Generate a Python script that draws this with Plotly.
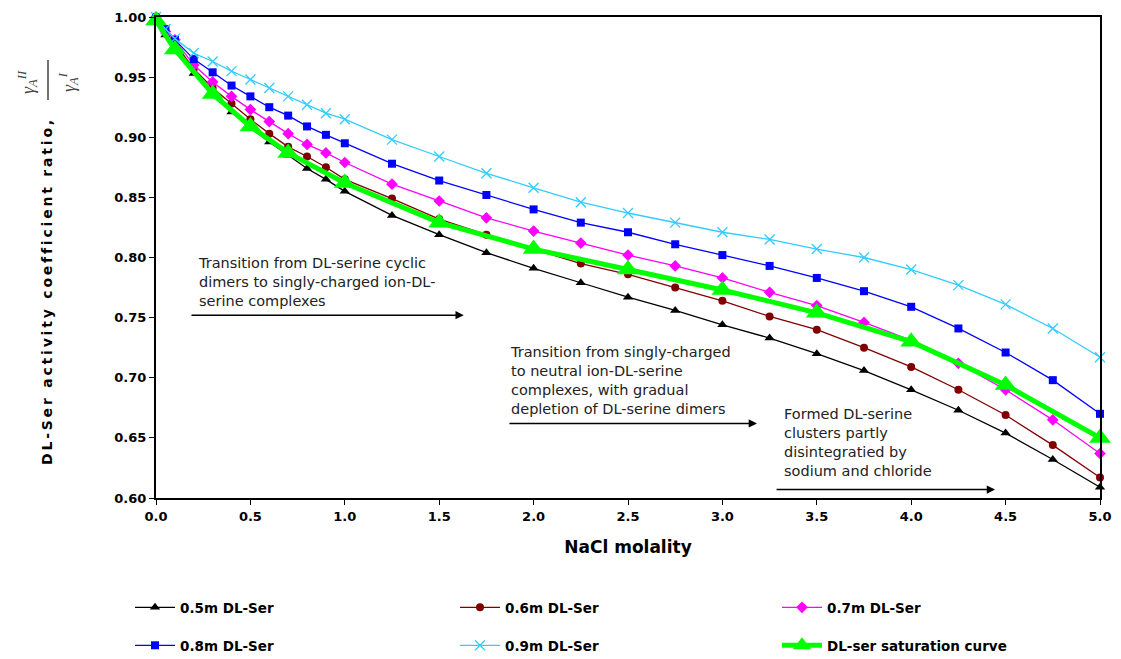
import plotly.graph_objects as go

# NaCl molality grid shared by the five DL-serine series
nacl = [0, 0.05, 0.1, 0.2, 0.3, 0.4, 0.5, 0.6, 0.7, 0.8, 0.9, 1.0, 1.25, 1.5,
        1.75, 2.0, 2.25, 2.5, 2.75, 3.0, 3.25, 3.5, 3.75, 4.0, 4.25, 4.5, 4.75, 5.0]

ser_05 = [1.000, 0.985, 0.976, 0.953, 0.937, 0.921, 0.908, 0.896, 0.885, 0.874,
          0.865, 0.855, 0.835, 0.819, 0.804, 0.791, 0.779, 0.767, 0.756, 0.744,
          0.733, 0.720, 0.706, 0.690, 0.673, 0.654, 0.632, 0.609]
ser_06 = [1.000, 0.987, 0.978, 0.957, 0.941, 0.928, 0.915, 0.903, 0.892, 0.884,
          0.875, 0.865, 0.849, 0.832, 0.819, 0.807, 0.795, 0.786, 0.775, 0.764,
          0.751, 0.740, 0.725, 0.709, 0.690, 0.669, 0.644, 0.617]
ser_07 = [1.000, 0.988, 0.981, 0.960, 0.946, 0.934, 0.923, 0.913, 0.903, 0.894,
          0.887, 0.879, 0.861, 0.847, 0.833, 0.822, 0.812, 0.802, 0.793, 0.783,
          0.771, 0.760, 0.746, 0.731, 0.712, 0.690, 0.665, 0.637]
ser_08 = [1.000, 0.990, 0.981, 0.965, 0.954, 0.943, 0.934, 0.925, 0.918, 0.909,
          0.902, 0.895, 0.878, 0.864, 0.852, 0.840, 0.829, 0.821, 0.811, 0.802,
          0.793, 0.783, 0.772, 0.759, 0.741, 0.721, 0.698, 0.670]
ser_09 = [1.000, 0.990, 0.982, 0.970, 0.963, 0.955, 0.948, 0.941, 0.934, 0.927,
          0.920, 0.915, 0.898, 0.884, 0.870, 0.858, 0.846, 0.837, 0.829, 0.821,
          0.815, 0.807, 0.800, 0.790, 0.777, 0.761, 0.741, 0.717]

# saturation curve
sat_x = [0, 0.1, 0.3, 0.5, 0.7, 1.0, 1.5, 2.0, 2.5, 3.0, 3.5, 4.0, 4.5, 5.0]
sat_y = [0.997, 0.973, 0.936, 0.909, 0.887, 0.862, 0.829, 0.807, 0.790, 0.773,
         0.754, 0.730, 0.694, 0.650]

x_ticks = [0, 0.5, 1.0, 1.5, 2.0, 2.5, 3.0, 3.5, 4.0, 4.5, 5.0]
y_ticks = [0.60, 0.65, 0.70, 0.75, 0.80, 0.85, 0.90, 0.95, 1.00]

WIDE = "DejaVu Sans, Verdana, sans-serif"
SERIF = "Liberation Serif, Times New Roman, serif"


def spaced(text):
    """Open up the tracking of a label with thin spaces between letters."""
    return "\u2009 \u2009".join("\u2009".join(word) for word in text.split(" "))


W, H = 1121, 659
L, R, T, B = 156, 21, 17, 161
pw, ph = W - L - R, H - T - B


def px(x):
    return (x - L) / pw


def py(y):
    return (H - B - y) / ph


# name, values, colour, symbol, size, legend slot (left px, top px)
series = [
    ("0.5m DL-Ser", ser_05, "#000000", "triangle-up", 9, (130, 592)),
    ("0.6m DL-Ser", ser_06, "#800000", "circle", 8, (455, 592)),
    ("0.7m DL-Ser", ser_07, "#FF00FF", "diamond", 9, (777, 592)),
    ("0.8m DL-Ser", ser_08, "#0000FF", "square", 8, (130, 630)),
    ("0.9m DL-Ser", ser_09, "#33CCFF", "x-thin-open", 10, (455, 630)),
]
sat_slot = (777, 630)

legend_style = dict(
    orientation="h", xanchor="left", yanchor="top",
    xref="container", yref="container",
    font=dict(family=WIDE, size=13.5, color="#000000", weight="bold"),
    bgcolor="rgba(0,0,0,0)", itemwidth=40)

fig = go.Figure()
legends = {}
for i, (name, ys, color, sym, size, slot) in enumerate(series):
    key = "legend" if i == 0 else f"legend{i + 1}"
    legends[key] = dict(legend_style, x=slot[0] / W, y=(H - slot[1]) / H)
    marker = dict(symbol=sym, size=size, color=color)
    if sym == "x-thin-open":
        marker["line"] = dict(color=color, width=1.3)
    fig.add_trace(go.Scatter(
        x=nacl, y=ys, name=name, mode="lines+markers",
        line=dict(color=color, width=1.3), marker=marker,
        cliponaxis=False, legend=key))

legends["legend6"] = dict(legend_style, x=sat_slot[0] / W, y=(H - sat_slot[1]) / H)
fig.add_trace(go.Scatter(
    x=sat_x, y=sat_y, name="DL-ser saturation curve", mode="lines+markers",
    line=dict(color="#00FF00", width=5),
    marker=dict(symbol="triangle-up", size=19, color="#00FF00"),
    cliponaxis=False, legend="legend6"))

# text notes with arrows along the curves
notes = [
    (0.212, 0.780, "Transition from DL-serine cyclic<br>dimers to singly-charged ion-DL-<br>serine complexes",
     0.18, 1.63, 0.752),
    (1.864, 0.698, "Transition from singly-charged<br>to neutral ion-DL-serine<br>complexes, with gradual<br>depletion of DL-serine dimers",
     1.864, 3.183, 0.662),
    (3.316, 0.646, "Formed DL-serine<br>clusters partly<br>disintegratied by<br>sodium and chloride",
     3.279, 4.444, 0.607),
]
annotations = []
for tx, ty, text, ax0, ax1, ay in notes:
    annotations.append(dict(
        x=tx, y=ty, xref="x", yref="y", text=text, showarrow=False,
        xanchor="left", yanchor="middle", align="left",
        font=dict(family=WIDE, size=14.5, color="#222222")))
    annotations.append(dict(
        x=ax1, y=ay, ax=ax0, ay=ay, xref="x", yref="y", axref="x", ayref="y",
        text="", showarrow=True, arrowhead=2, arrowsize=1.1, arrowwidth=1.5,
        arrowcolor="#000000"))

# y-axis title: words plus the rotated activity-coefficient fraction
annotations.append(dict(
    x=px(47), y=py(293), xref="paper", yref="paper",
    text=spaced("DL-Ser activity coefficient ratio,"),
    textangle=-90, showarrow=False, xanchor="center", yanchor="middle",
    font=dict(family=WIDE, size=14, color="#000000", weight="bold")))
annotations.append(dict(
    x=px(28), y=py(82), xref="paper", yref="paper",
    text="<i>γ</i><sub><i>A</i></sub><sup><i>II</i></sup>",
    textangle=-90, showarrow=False, xanchor="center", yanchor="middle",
    font=dict(family=SERIF, size=18, color="#444444")))
annotations.append(dict(
    x=px(69), y=py(82), xref="paper", yref="paper",
    text="<i>γ</i><sub><i>A</i></sub><sup><i>I</i></sup>",
    textangle=-90, showarrow=False, xanchor="center", yanchor="middle",
    font=dict(family=SERIF, size=18, color="#444444")))

shapes = [dict(type="line", xref="paper", yref="paper",
               x0=px(48), x1=px(48), y0=py(60), y1=py(100),
               line=dict(color="#444444", width=1.5))]

fig.update_layout(
    width=W, height=H,
    margin=dict(l=L, r=R, t=T, b=B, pad=0, autoexpand=False),
    plot_bgcolor="#FFFFFF", paper_bgcolor="#FFFFFF",
    showlegend=True,
    annotations=annotations, shapes=shapes,
    xaxis=dict(
        range=[0, 5], tickvals=x_ticks, ticktext=[f"{v:.1f}" for v in x_ticks],
        showgrid=False, zeroline=False, showline=True, linecolor="#000000",
        linewidth=2, mirror=True, ticks="outside", ticklen=5, tickwidth=1,
        tickcolor="#000000", automargin=False,
        tickfont=dict(family=WIDE, size=13, color="#000000", weight="bold"),
        title=dict(text="NaCl molality", standoff=19,
                   font=dict(family=WIDE, size=17, color="#000000", weight="bold"))),
    yaxis=dict(
        range=[0.60, 1.00], tickvals=y_ticks, ticktext=[f"{v:.2f}" for v in y_ticks],
        showgrid=False, zeroline=False, showline=True, linecolor="#000000",
        linewidth=2, mirror=True, ticks="outside", ticklen=5, tickwidth=1,
        tickcolor="#000000", automargin=False,
        tickfont=dict(family=WIDE, size=13, color="#000000", weight="bold")),
    **legends,
)

fig.write_html("out.html")
